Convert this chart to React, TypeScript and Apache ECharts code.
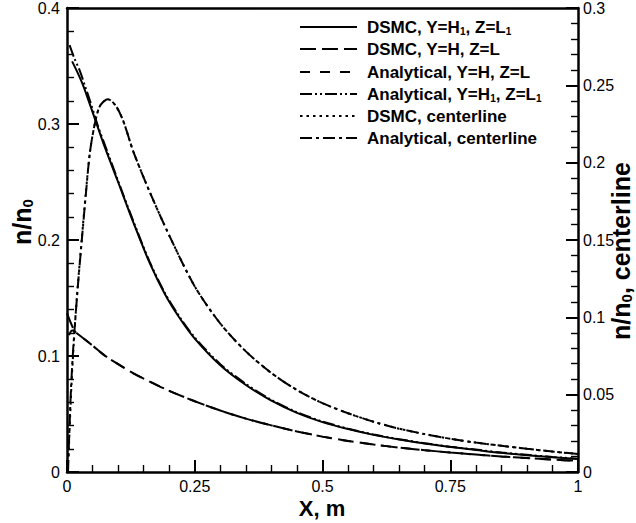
import React, { useEffect, useRef } from "react";
import * as echarts from "echarts";

// ---------- data ----------
const seriesNames = [
  "DSMC, Y=H1, Z=L1",
  "DSMC, Y=H, Z=L",
  "Analytical, Y=H, Z=L",
  "Analytical, Y=H1, Z=L1",
  "DSMC, centerline",
  "Analytical, centerline",
];

const xRange = [0, 1];
const yLeftRange = [0, 0.4];
const yRightRange = [0, 0.3];

const dsmcH1X = [0.01, 0.02, 0.03, 0.04, 0.055, 0.074, 0.1, 0.13, 0.162, 0.192, 0.22, 0.25, 0.3, 0.35, 0.4, 0.45, 0.5, 0.55, 0.6, 0.65, 0.7, 0.75, 0.8, 0.85, 0.9, 0.95, 1.0];
const dsmcH1Y = [0.354, 0.345, 0.335, 0.323, 0.304, 0.28, 0.25, 0.215, 0.18, 0.153, 0.133, 0.115, 0.092, 0.075, 0.0615, 0.051, 0.043, 0.037, 0.032, 0.028, 0.0245, 0.0215, 0.019, 0.0165, 0.0145, 0.0128, 0.0112];

const anaH1X = [0.005, 0.015, 0.025, 0.035, 0.045, 0.06, 0.08, 0.1, 0.13, 0.162, 0.192, 0.22, 0.25, 0.3, 0.35, 0.4, 0.45, 0.5, 0.55, 0.6, 0.65, 0.7, 0.75, 0.8, 0.85, 0.9, 0.95, 1.0];
const anaH1Y = [0.368, 0.356, 0.346, 0.333, 0.32, 0.299, 0.275, 0.251, 0.216, 0.181, 0.154, 0.134, 0.116, 0.093, 0.076, 0.0622, 0.0516, 0.0435, 0.0374, 0.0323, 0.0283, 0.0248, 0.0218, 0.0193, 0.0168, 0.0148, 0.013, 0.0115];

const dsmcHX = [0, 0.008, 0.016, 0.03, 0.05, 0.075, 0.1, 0.13, 0.157, 0.2, 0.25, 0.3, 0.35, 0.4, 0.45, 0.5, 0.55, 0.6, 0.65, 0.7, 0.75, 0.8, 0.85, 0.9, 0.95, 1.0];
const dsmcHY = [0.137, 0.128, 0.121, 0.116, 0.109, 0.1, 0.093, 0.085, 0.079, 0.07, 0.061, 0.053, 0.046, 0.0402, 0.035, 0.0305, 0.0268, 0.0237, 0.021, 0.0188, 0.0168, 0.015, 0.0134, 0.012, 0.0107, 0.0096];

const anaHX = [0.004, 0.01, 0.016, 0.03, 0.05, 0.075, 0.1, 0.13, 0.157, 0.2, 0.25, 0.3, 0.35, 0.4, 0.45, 0.5, 0.55, 0.6, 0.65, 0.7, 0.75, 0.8, 0.85, 0.9, 0.95, 1.0];
const anaHY = [0.118, 0.122, 0.121, 0.116, 0.109, 0.1, 0.093, 0.085, 0.079, 0.07, 0.061, 0.053, 0.046, 0.0402, 0.035, 0.0305, 0.0268, 0.0237, 0.021, 0.0188, 0.0168, 0.015, 0.0134, 0.012, 0.0107, 0.0096];

const dsmcCX = [0.003, 0.006, 0.009, 0.013, 0.02, 0.029, 0.037, 0.045, 0.055, 0.065, 0.08, 0.095, 0.11, 0.13, 0.162, 0.2, 0.25, 0.3, 0.35, 0.4, 0.45, 0.5, 0.55, 0.6, 0.65, 0.7, 0.75, 0.8, 0.85, 0.9, 0.95, 1.0];
const dsmcCY = [0.01, 0.035, 0.058, 0.082, 0.116, 0.151, 0.181, 0.207, 0.226, 0.237, 0.241, 0.237, 0.227, 0.207, 0.181, 0.153, 0.12, 0.096, 0.078, 0.064, 0.053, 0.0445, 0.038, 0.0325, 0.028, 0.0245, 0.0215, 0.019, 0.017, 0.015, 0.0132, 0.0117];

const anaCX = [0.002, 0.005, 0.008, 0.012, 0.02, 0.029, 0.037, 0.045, 0.055, 0.065, 0.08, 0.095, 0.11, 0.13, 0.162, 0.2, 0.25, 0.3, 0.35, 0.4, 0.45, 0.5, 0.55, 0.6, 0.65, 0.7, 0.75, 0.8, 0.85, 0.9, 0.95, 1.0];
const anaCY = [0.0, 0.03, 0.055, 0.079, 0.115, 0.15, 0.18, 0.207, 0.226, 0.237, 0.241, 0.237, 0.227, 0.207, 0.181, 0.153, 0.12, 0.096, 0.078, 0.064, 0.053, 0.0445, 0.038, 0.0325, 0.028, 0.0245, 0.0215, 0.019, 0.017, 0.015, 0.0132, 0.0117];

const legendLabels = [
  "DSMC, Y=H{s|1}, Z=L{s|1}",
  "DSMC, Y=H, Z=L",
  "Analytical, Y=H, Z=L",
  "Analytical, Y=H{s|1}, Z=L{s|1}",
  "DSMC, centerline",
  "Analytical, centerline",
];

const dashes: any[] = [null, [16, 6], [10, 10], [12, 3, 2, 3, 2, 3], [2.5, 4], [12, 4, 3, 4]];

const zip = (xs: number[], ys: number[]) => xs.map((x, i) => [x, ys[i]]);

const FONT = "'Liberation Sans', Arial, Helvetica, sans-serif";

const W = 636;
const H = 523;

export default function App() {
  const ref = useRef<HTMLDivElement>(null);
  useEffect(() => {
    if (!ref.current) return;
    const chart = echarts.init(ref.current, null, { renderer: "svg", width: W, height: H });
    const mk = (i: number, xs: number[], ys: number[], yAxisIndex = 0) => ({
      name: seriesNames[i],
      type: "line",
      data: zip(xs, ys),
      yAxisIndex,
      xAxisIndex: 0,
      showSymbol: false,
      symbol: "none",
      smooth: 0.3,
      lineStyle: { color: "#000", width: 2, type: dashes[i] || "solid" },
      itemStyle: { color: "#000" },
    });
    const axisLine = { show: true, onZero: false, lineStyle: { color: "#000", width: 2.5 } };
    const axisTick = { show: true, inside: true, length: 12, lineStyle: { color: "#000", width: 2 } };
    const minorTick = { show: true, splitNumber: 5, length: 7, lineStyle: { color: "#000", width: 1.4 } };
    const label = { show: true, color: "#000", fontSize: 16, fontFamily: FONT };

    const g: any[] = [];
    // ---- legend ----
    const rowY = [27, 49, 72, 94, 116, 138];
    legendLabels.forEach((t, i) => {
      g.push({
        type: "line",
        shape: { x1: 300, y1: rowY[i], x2: 357, y2: rowY[i] },
        style: { stroke: "#000", lineWidth: 2, lineDash: dashes[i] || null },
      });
      g.push({
        type: "text",
        x: 367,
        y: rowY[i],
        style: {
          text: t,
          fontSize: 17,
          fontWeight: "bold",
          fontFamily: FONT,
          fill: "#000",
          verticalAlign: "middle",
          rich: {
            s: { fontSize: 10, fontWeight: "bold", fontFamily: FONT, fill: "#000", verticalAlign: "bottom", padding: [9, 0, 0, 0] },
          },
        },
      });
    });
    // ---- axis titles ----
    const titleRich = {
      a: { fontSize: 25, fontWeight: "bold", fontFamily: FONT, fill: "#000" },
      b: { fontSize: 15, fontWeight: "bold", fontFamily: FONT, fill: "#000", padding: [11, 0, 0, 0] },
    };
    g.push({
      type: "text",
      x: 322,
      y: 508,
      style: { text: "X, m", fontSize: 22, fontWeight: "bold", fontFamily: FONT, fill: "#000", align: "center", verticalAlign: "middle" },
    });
    g.push({
      type: "text",
      x: 22,
      y: 222,
      rotation: Math.PI / 2,
      style: { text: "{a|n/n}{b|0}", align: "center", verticalAlign: "middle", rich: titleRich },
    });
    g.push({
      type: "text",
      x: 621,
      y: 251,
      rotation: Math.PI / 2,
      style: { text: "{a|n/n}{b|0}{a|, centerline}", align: "center", verticalAlign: "middle", rich: titleRich },
    });

    chart.setOption({
      animation: false,
      backgroundColor: "#fff",
      grid: { left: 67, right: 58, top: 8, bottom: 51 },
      xAxis: [
        {
          type: "value",
          min: xRange[0],
          max: xRange[1],
          interval: 0.25,
          position: "bottom",
          axisLine,
          axisTick,
          minorTick,
          splitLine: { show: false },
          minorSplitLine: { show: false },
          axisLabel: { ...label, margin: 6 },
        },
        {
          type: "value",
          min: xRange[0],
          max: xRange[1],
          position: "top",
          axisLine,
          axisTick: { show: false },
          axisLabel: { show: false },
          splitLine: { show: false },
        },
      ],
      yAxis: [
        {
          type: "value",
          min: yLeftRange[0],
          max: yLeftRange[1],
          interval: 0.1,
          position: "left",
          axisLine,
          axisTick,
          minorTick,
          splitLine: { show: false },
          minorSplitLine: { show: false },
          axisLabel: { ...label, margin: 7 },
        },
        {
          type: "value",
          min: yRightRange[0],
          max: yRightRange[1],
          interval: 0.05,
          position: "right",
          axisLine,
          axisTick,
          minorTick,
          splitLine: { show: false },
          minorSplitLine: { show: false },
          axisLabel: { ...label, margin: 5 },
        },
      ],
      graphic: { elements: g },
      series: [
        mk(0, dsmcH1X, dsmcH1Y),
        mk(1, dsmcHX, dsmcHY),
        mk(2, anaHX, anaHY),
        mk(3, anaH1X, anaH1Y),
        mk(4, dsmcCX, dsmcCY, 1),
        mk(5, anaCX, anaCY, 1),
      ],
    });
    return () => chart.dispose();
  }, []);
  return <div ref={ref} style={{ width: W, height: H, position: "absolute", left: 0, top: 0 }} />;
}
